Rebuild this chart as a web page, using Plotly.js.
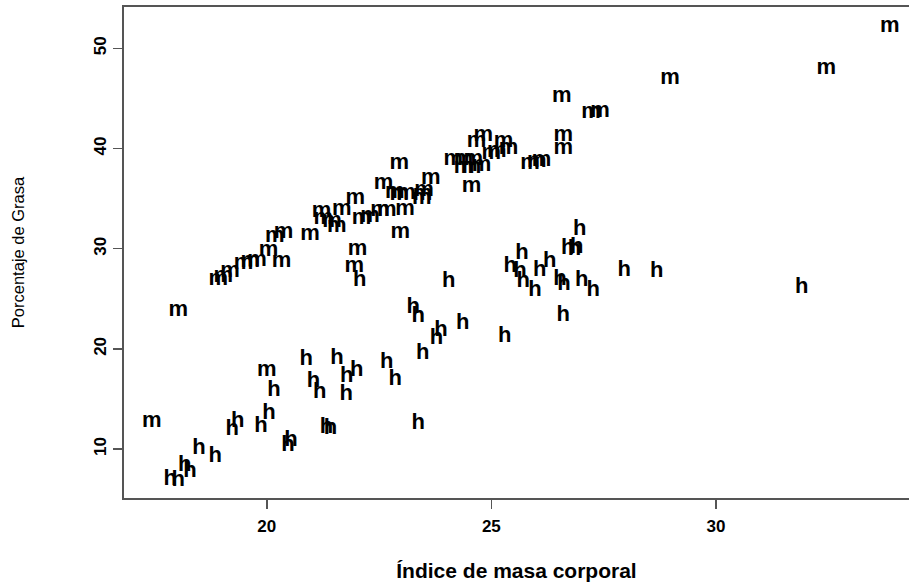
<!DOCTYPE html>
<html>
<head>
<meta charset="utf-8">
<script src="https://cdn.plot.ly/plotly-3.0.1.min.js"></script>
<style>html,body{margin:0;padding:0;background:#fff;}#chart{width:909px;height:583px;}</style>
</head>
<body>
<div id="chart"></div>
<script>
// Mujeres (m)
var imcMujeres = [17.44,18.03,18.92,19.03,19.18,19.48,19.63,19.78,20.04,20.33,20.18,20.37,20.96,20.0,
  21.22,21.26,21.45,21.56,21.67,21.97,22.11,22.3,22.52,22.67,23.08,22.6,22.95,22.85,22.95,23.1,
  23.45,23.5,23.47,23.65,22.97,22.02,21.95,24.56,24.15,24.38,24.6,24.38,24.56,24.78,24.67,24.82,
  25.27,25.38,25.12,25.0,25.86,26.01,26.12,26.6,26.6,26.57,27.22,27.42,28.98,32.46,33.87];
var grasaMujeres = [12.73,23.88,26.98,27.2,27.7,28.54,28.7,28.87,29.87,28.7,31.2,31.6,31.4,17.83,
  33.69,33.03,32.7,32.2,33.93,35.03,33.03,33.2,33.79,33.86,33.93,36.53,38.52,35.6,35.4,35.5,
  35.0,35.8,35.4,37.0,31.6,29.9,28.2,36.26,38.92,38.92,38.92,38.12,38.12,38.35,40.68,41.35,
  40.68,40.02,39.68,39.52,38.52,38.68,38.85,41.35,40.02,45.17,43.6,43.7,47.0,48.0,52.23];
// Hombres (h)
var imcHombres = [17.85,18.03,18.17,18.29,18.49,18.85,19.35,19.23,19.87,20.05,20.16,20.54,20.47,20.88,
  21.56,22.0,21.78,22.67,22.86,21.04,21.18,21.77,21.33,21.42,23.37,23.26,23.37,23.47,23.88,23.78,
  24.36,24.05,25.3,22.07,26.97,26.7,26.85,26.9,25.68,25.42,25.64,25.71,25.97,26.3,26.08,26.53,
  26.62,27.01,27.27,27.96,28.68,26.6,31.91];
var grasaHombres = [6.92,6.85,8.41,7.75,10.08,9.31,12.73,11.98,12.24,13.57,15.83,10.9,10.4,18.9,
  19.0,17.85,17.2,18.6,16.97,16.75,15.7,15.45,12.2,12.1,12.57,24.15,23.21,19.5,21.85,21.06,
  22.55,26.75,21.29,26.85,31.9,30.0,29.9,30.1,29.54,28.2,27.7,26.71,25.88,28.7,27.87,26.9,
  26.4,26.88,25.88,27.85,27.7,23.38,26.11];
var xTicks = [20,25,30];
var yTicks = [10,20,30,40,50];

var fam = 'Liberation Sans, Arial, sans-serif';
var markFont = {family:fam, size:22, color:'#000', weight:'bold'};
var traces = [
  {x: imcMujeres, y: grasaMujeres, mode:'text', type:'scatter',
   text: imcMujeres.map(function(){return 'm';}), textposition:'middle center',
   textfont: markFont, hoverinfo:'none', showlegend:false},
  {x: imcHombres, y: grasaHombres, mode:'text', type:'scatter',
   text: imcHombres.map(function(){return 'h';}), textposition:'middle center',
   textfont: markFont, hoverinfo:'none', showlegend:false}
];
var tickFont = {family:fam, size:17, color:'#000', weight:'bold'};
var layout = {
  width:909, height:583,
  margin:{l:124, r:0, t:7, b:85},
  paper_bgcolor:'#fff', plot_bgcolor:'#fff',
  showlegend:false,
  xaxis:{
    range:[16.82, 34.3], tickvals:xTicks, ticktext:xTicks.map(String),
    ticks:'outside', ticklen:9, tickwidth:1.5, tickcolor:'#555',
    showline:true, mirror:true, linecolor:'#555', linewidth:2,
    showgrid:false, zeroline:false, tickfont:tickFont, ticklabelstandoff:3,
    title:{text:'Índice de masa corporal', font:{family:fam, size:21, color:'#000', weight:'bold'}, standoff:28}
  },
  yaxis:{
    range:[5.12, 54.13], tickvals:yTicks, ticktext:yTicks.map(String), tickangle:-90,
    ticks:'outside', ticklen:9, tickwidth:1.5, tickcolor:'#555',
    showline:true, mirror:true, linecolor:'#555', linewidth:2,
    showgrid:false, zeroline:false, tickfont:tickFont,
    title:{text:'Porcentaje de Grasa', font:{family:fam, size:16.5, color:'#000'}, standoff:62}
  }
};
Plotly.newPlot('chart', traces, layout, {displayModeBar:false, staticPlot:true});
</script>
</body>
</html>
